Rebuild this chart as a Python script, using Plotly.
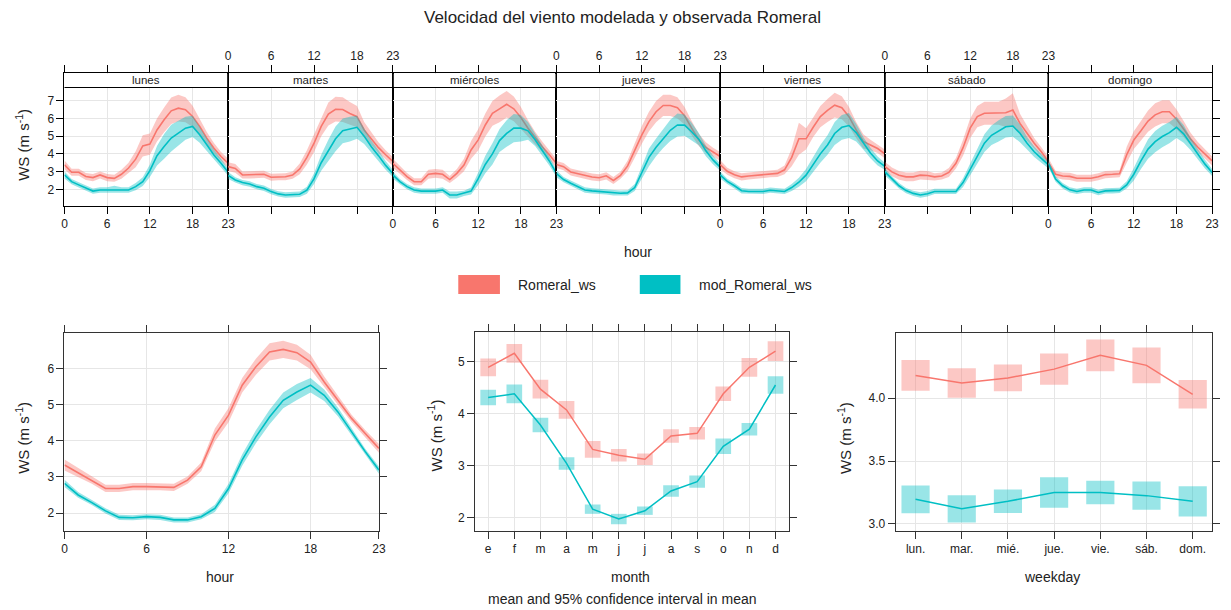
import plotly.graph_objects as go

# ---------------- data ----------------
hours = list(range(24))
days = ["lunes", "martes", "miércoles", "jueves", "viernes", "sábado", "domingo"]

obs_lunes = [3.38, 2.96, 2.96, 2.72, 2.66, 2.81, 2.66, 2.62, 2.85, 3.2, 3.7, 4.45, 4.55, 5.35, 5.92, 6.43, 6.58, 6.49, 6.11, 5.55, 4.89, 4.32, 3.85, 3.47]
mod_lunes = [2.81, 2.43, 2.25, 2.06, 1.9, 1.96, 1.96, 2.0, 1.96, 1.96, 2.15, 2.43, 3.05, 3.9, 4.42, 4.89, 5.17, 5.45, 5.55, 5.08, 4.51, 3.94, 3.47, 2.96]
obs_martes = [3.28, 3.18, 2.81, 2.81, 2.81, 2.85, 2.68, 2.71, 2.71, 2.8, 3.15, 3.8, 4.6, 5.55, 6.25, 6.52, 6.5, 6.28, 6.1, 5.35, 4.85, 4.35, 3.95, 3.58]
mod_martes = [2.78, 2.53, 2.38, 2.3, 2.15, 2.06, 1.87, 1.74, 1.68, 1.68, 1.72, 1.95, 2.6, 3.5, 4.2, 4.85, 5.3, 5.4, 5.5, 5.0, 4.4, 3.9, 3.35, 2.9]
obs_miercoles = [3.47, 3.09, 2.72, 2.43, 2.43, 2.85, 2.9, 2.85, 2.55, 2.9, 3.37, 4.22, 4.79, 5.63, 6.29, 6.54, 6.8, 6.54, 6.05, 5.45, 4.9, 4.4, 3.95, 3.45]
mod_miercoles = [2.81, 2.43, 2.15, 1.96, 1.9, 1.9, 1.9, 1.96, 1.68, 1.68, 1.77, 1.9, 2.6, 3.4, 4.0, 4.75, 5.15, 5.45, 5.45, 5.3, 4.8, 4.2, 3.6, 2.9]
obs_jueves = [3.4, 3.28, 2.98, 2.87, 2.79, 2.69, 2.65, 2.76, 2.5, 2.79, 3.32, 4.18, 5.07, 5.82, 6.38, 6.73, 6.73, 6.6, 6.15, 5.45, 4.79, 4.36, 4.1, 3.85]
mod_jueves = [2.88, 2.55, 2.34, 2.15, 1.96, 1.91, 1.87, 1.85, 1.8, 1.78, 1.8, 2.1, 2.95, 3.8, 4.37, 4.88, 5.33, 5.63, 5.62, 5.25, 4.83, 4.17, 3.66, 3.25]
obs_viernes = [3.4, 3.02, 2.82, 2.7, 2.75, 2.79, 2.82, 2.88, 2.9, 3.1, 3.8, 4.85, 4.85, 5.5, 6.1, 6.45, 6.75, 6.6, 6.1, 5.35, 4.7, 4.5, 4.3, 4.0]
mod_viernes = [2.81, 2.45, 2.2, 1.92, 1.88, 1.88, 1.88, 1.95, 1.92, 1.88, 2.1, 2.4, 2.8, 3.4, 4.0, 4.5, 5.15, 5.5, 5.6, 5.2, 4.6, 4.05, 3.6, 3.3]
obs_sabado = [3.3, 2.98, 2.79, 2.7, 2.7, 2.8, 2.78, 2.7, 2.75, 2.95, 3.47, 4.35, 5.45, 6.1, 6.29, 6.29, 6.29, 6.32, 6.47, 5.72, 5.16, 4.6, 4.12, 3.56]
mod_sabado = [3.0, 2.58, 2.2, 1.93, 1.77, 1.68, 1.75, 1.88, 1.88, 1.88, 1.88, 2.38, 3.1, 3.9, 4.6, 5.05, 5.3, 5.53, 5.57, 5.16, 4.6, 4.12, 3.75, 3.37]
obs_domingo = [3.5, 2.85, 2.75, 2.73, 2.62, 2.62, 2.62, 2.71, 2.83, 2.85, 2.88, 3.95, 4.78, 5.3, 5.85, 6.2, 6.38, 6.38, 5.95, 5.4, 4.83, 4.37, 3.98, 3.6]
mod_domingo = [3.45, 2.58, 2.2, 1.97, 1.88, 1.96, 1.96, 1.82, 1.91, 1.91, 1.94, 2.25, 2.85, 3.6, 4.27, 4.69, 4.98, 5.2, 5.5, 5.13, 4.55, 3.98, 3.42, 2.95]

# 95% CI half widths
obs_lunes_ci = [0.25, 0.2, 0.2, 0.2, 0.2, 0.2, 0.2, 0.2, 0.25, 0.3, 0.45, 0.6, 0.6, 0.65, 0.7, 0.75, 0.75, 0.7, 0.6, 0.45, 0.35, 0.3, 0.25, 0.25]
mod_lunes_ci = [0.2, 0.15, 0.15, 0.15, 0.15, 0.15, 0.15, 0.2, 0.15, 0.15, 0.2, 0.25, 0.35, 0.55, 0.7, 0.75, 0.7, 0.65, 0.6, 0.45, 0.35, 0.3, 0.25, 0.2]
obs_martes_ci = [0.25, 0.25, 0.2, 0.2, 0.2, 0.2, 0.2, 0.2, 0.2, 0.2, 0.3, 0.4, 0.5, 0.55, 0.65, 0.7, 0.7, 0.65, 0.6, 0.45, 0.35, 0.3, 0.25, 0.25]
mod_martes_ci = [0.2, 0.15, 0.15, 0.15, 0.15, 0.15, 0.15, 0.15, 0.15, 0.15, 0.15, 0.2, 0.3, 0.45, 0.6, 0.7, 0.7, 0.7, 0.65, 0.45, 0.35, 0.3, 0.25, 0.2]
obs_miercoles_ci = [0.25, 0.2, 0.2, 0.2, 0.2, 0.25, 0.25, 0.25, 0.2, 0.25, 0.35, 0.5, 0.6, 0.65, 0.7, 0.75, 0.75, 0.7, 0.6, 0.45, 0.35, 0.3, 0.25, 0.25]
mod_miercoles_ci = [0.2, 0.15, 0.15, 0.15, 0.15, 0.15, 0.15, 0.15, 0.2, 0.2, 0.15, 0.2, 0.35, 0.5, 0.6, 0.65, 0.75, 0.8, 0.75, 0.5, 0.35, 0.3, 0.25, 0.2]
obs_jueves_ci = [0.2, 0.2, 0.2, 0.2, 0.2, 0.2, 0.2, 0.2, 0.2, 0.2, 0.3, 0.4, 0.5, 0.55, 0.6, 0.6, 0.6, 0.6, 0.5, 0.4, 0.35, 0.3, 0.25, 0.25]
mod_jueves_ci = [0.2, 0.15, 0.15, 0.15, 0.15, 0.15, 0.15, 0.15, 0.15, 0.15, 0.15, 0.2, 0.35, 0.5, 0.5, 0.55, 0.6, 0.65, 0.6, 0.5, 0.35, 0.3, 0.25, 0.2]
obs_viernes_ci = [0.25, 0.2, 0.2, 0.2, 0.2, 0.2, 0.2, 0.2, 0.2, 0.25, 0.5, 0.9, 0.6, 0.55, 0.6, 0.65, 0.7, 0.65, 0.55, 0.45, 0.4, 0.3, 0.25, 0.25]
mod_viernes_ci = [0.2, 0.15, 0.15, 0.15, 0.15, 0.15, 0.15, 0.15, 0.15, 0.15, 0.2, 0.25, 0.35, 0.45, 0.5, 0.55, 0.65, 0.7, 0.7, 0.5, 0.35, 0.3, 0.25, 0.2]
obs_sabado_ci = [0.25, 0.25, 0.25, 0.25, 0.25, 0.25, 0.25, 0.2, 0.2, 0.25, 0.3, 0.45, 0.55, 0.6, 0.65, 0.65, 0.65, 0.8, 0.95, 0.55, 0.4, 0.3, 0.25, 0.25]
mod_sabado_ci = [0.2, 0.15, 0.15, 0.15, 0.15, 0.15, 0.15, 0.15, 0.15, 0.15, 0.15, 0.25, 0.35, 0.45, 0.5, 0.55, 0.6, 0.6, 0.6, 0.5, 0.35, 0.3, 0.25, 0.2]
obs_domingo_ci = [0.25, 0.2, 0.2, 0.2, 0.2, 0.2, 0.2, 0.2, 0.2, 0.2, 0.2, 0.45, 0.5, 0.55, 0.6, 0.65, 0.65, 0.65, 0.55, 0.45, 0.35, 0.3, 0.25, 0.25]
mod_domingo_ci = [0.2, 0.15, 0.15, 0.15, 0.15, 0.15, 0.15, 0.15, 0.15, 0.15, 0.15, 0.2, 0.35, 0.45, 0.55, 0.6, 0.6, 0.6, 0.6, 0.5, 0.35, 0.3, 0.25, 0.2]

obs_hour = [3.33, 3.12, 2.91, 2.68, 2.68, 2.73, 2.73, 2.73, 2.71, 2.91, 3.28, 4.16, 4.71, 5.54, 6.05, 6.46, 6.53, 6.44, 6.18, 5.63, 5.12, 4.62, 4.2, 3.79]
mod_hour = [2.82, 2.5, 2.29, 2.06, 1.88, 1.87, 1.9, 1.88, 1.81, 1.81, 1.9, 2.13, 2.68, 3.47, 4.11, 4.66, 5.12, 5.35, 5.54, 5.26, 4.8, 4.25, 3.7, 3.19]
obs_hour_ci = [0.15, 0.12, 0.1, 0.1, 0.1, 0.1, 0.1, 0.1, 0.1, 0.1, 0.12, 0.18, 0.2, 0.2, 0.22, 0.24, 0.24, 0.22, 0.2, 0.15, 0.12, 0.1, 0.1, 0.12]
mod_hour_ci = [0.1, 0.08, 0.07, 0.07, 0.07, 0.07, 0.07, 0.07, 0.07, 0.07, 0.07, 0.1, 0.13, 0.16, 0.18, 0.2, 0.22, 0.22, 0.2, 0.16, 0.12, 0.1, 0.08, 0.1]

months = ["e", "f", "m", "a", "m", "j", "j", "a", "s", "o", "n", "d"]
obs_month = [4.89, 5.16, 4.47, 4.07, 3.31, 3.2, 3.12, 3.57, 3.62, 4.38, 4.89, 5.2]
obs_month_ci = [0.17, 0.18, 0.18, 0.17, 0.16, 0.12, 0.11, 0.13, 0.12, 0.14, 0.18, 0.19]
mod_month = [4.31, 4.38, 3.78, 3.04, 2.16, 1.97, 2.13, 2.51, 2.69, 3.37, 3.7, 4.55]
mod_month_ci = [0.15, 0.18, 0.14, 0.12, 0.09, 0.1, 0.08, 0.11, 0.12, 0.15, 0.12, 0.17]

weekdays = ["lun.", "mar.", "mié.", "jue.", "vie.", "sáb.", "dom."]
obs_wday = [4.18, 4.12, 4.16, 4.23, 4.34, 4.26, 4.03]
obs_wday_ci = [0.122, 0.117, 0.106, 0.125, 0.126, 0.142, 0.113]
mod_wday = [3.196, 3.12, 3.18, 3.25, 3.25, 3.225, 3.18]
mod_wday_ci = [0.11, 0.109, 0.093, 0.122, 0.093, 0.113, 0.12]

obs_week = [obs_lunes, obs_martes, obs_miercoles, obs_jueves, obs_viernes, obs_sabado, obs_domingo]
mod_week = [mod_lunes, mod_martes, mod_miercoles, mod_jueves, mod_viernes, mod_sabado, mod_domingo]
obs_week_ci = [obs_lunes_ci, obs_martes_ci, obs_miercoles_ci, obs_jueves_ci, obs_viernes_ci, obs_sabado_ci, obs_domingo_ci]
mod_week_ci = [mod_lunes_ci, mod_martes_ci, mod_miercoles_ci, mod_jueves_ci, mod_viernes_ci, mod_sabado_ci, mod_domingo_ci]

# ---------------- style ----------------
W, H = 1231, 610
RED = "#F8766D"
TEAL = "#00BFC4"
RED_F = "rgba(248,118,109,0.4)"
TEAL_F = "rgba(0,191,196,0.4)"
FONT = "Liberation Sans, Arial, sans-serif"
TXT = "#222222"
GRID = "#e6e6e6"


def fx(p):
    return p / W


def fy(p):
    return 1 - p / H


fig = go.Figure()
layout = dict(
    width=W, height=H, margin=dict(l=0, r=0, t=0, b=0),
    paper_bgcolor="white", plot_bgcolor="white", showlegend=False,
    barmode="overlay", font=dict(family=FONT, size=12, color=TXT),
)


def ribbon(x, m, ci, fill, xa, ya):
    up = [a + b for a, b in zip(m, ci)]
    lo = [a - b for a, b in zip(m, ci)]
    return go.Scatter(x=list(x) + list(x)[::-1], y=up + lo[::-1], fill="toself",
                      fillcolor=fill, line=dict(width=0), mode="lines",
                      hoverinfo="skip", xaxis=xa, yaxis=ya)


def line(x, m, col, xa, ya, w=1.6):
    return go.Scatter(x=x, y=m, mode="lines", line=dict(color=col, width=w),
                      xaxis=xa, yaxis=ya)


# ---------- top: hour by weekday ----------
bounds = [62, 227, 393, 558, 723, 889, 1054, 1219]
top_y0, top_y1 = 206.0, 73.0
strip_bot = 87.0
ymin_t, ymax_t = 1.058, 8.563
shapes = []
annotations = []
for i in range(7):
    n = "" if i == 0 else str(i + 1)
    xa, ya = "x" + n, "y" + n
    x0p, x1p = bounds[i], bounds[i + 1]
    fig.add_trace(ribbon(hours, obs_week[i], obs_week_ci[i], RED_F, xa, ya))
    fig.add_trace(line(hours, obs_week[i], RED, xa, ya))
    fig.add_trace(ribbon(hours, mod_week[i], mod_week_ci[i], TEAL_F, xa, ya))
    fig.add_trace(line(hours, mod_week[i], TEAL, xa, ya))
    layout["xaxis" + n] = dict(
        domain=[fx(x0p), fx(x1p)], range=[0, 23], anchor=ya,
        tickvals=[0, 6, 12, 18, 23], ticks="outside", ticklen=7, tickcolor="black",
        showline=True, linecolor="black", linewidth=1, mirror="ticks",
        side="top" if i % 2 == 1 else "bottom", showgrid=True, gridcolor=GRID,
        zeroline=False, tickfont=dict(size=12, color=TXT), fixedrange=True)
    yd = dict(
        domain=[fy(top_y0), fy(top_y1)], range=[ymin_t, ymax_t], anchor=xa,
        tickvals=[2, 3, 4, 5, 6, 7], showgrid=True, gridcolor=GRID, zeroline=False,
        showline=True, linecolor="black", linewidth=1, mirror=True,
        tickfont=dict(size=12, color=TXT))
    if i == 0:
        yd.update(ticks="outside", ticklen=7, tickcolor="black", showticklabels=True, side="left")
    elif i == 6:
        yd.update(ticks="outside", ticklen=7, tickcolor="black", showticklabels=False, side="right")
    else:
        yd.update(ticks="", showticklabels=False)
    layout["yaxis" + n] = yd
    # white strip background (inset so the panel borders stay visible)
    shapes.append(dict(type="rect", xref="paper", yref="paper",
                       x0=fx(x0p + 1), x1=fx(x1p - 1), y0=fy(strip_bot), y1=fy(top_y1 + 1),
                       fillcolor="white", line=dict(width=0), layer="above"))
    annotations.append(dict(text=days[i], x=fx((x0p + x1p) / 2), y=fy(80), xref="paper", yref="paper",
                            showarrow=False, font=dict(size=11.5, color=TXT),
                            xanchor="center", yanchor="middle"))

# strip lower border
shapes.append(dict(type="line", xref="paper", yref="paper", x0=fx(bounds[0]), x1=fx(bounds[-1]),
                   y0=fy(strip_bot + 0.5), y1=fy(strip_bot + 0.5),
                   line=dict(color="black", width=1), layer="above"))

# ---------- bottom left: hour ----------
fig.add_trace(ribbon(hours, obs_hour, obs_hour_ci, RED_F, "x8", "y8"))
fig.add_trace(line(hours, obs_hour, RED, "x8", "y8"))
fig.add_trace(ribbon(hours, mod_hour, mod_hour_ci, TEAL_F, "x8", "y8"))
fig.add_trace(line(hours, mod_hour, TEAL, "x8", "y8"))

common_x = dict(ticks="outside", ticklen=7, tickcolor="#333", showline=True, linecolor="#333",
                linewidth=1, mirror="ticks", showgrid=True, gridcolor=GRID, zeroline=False,
                tickfont=dict(size=12, color=TXT), fixedrange=True)
common_y = dict(ticks="outside", ticklen=7, tickcolor="#333", showline=True, linecolor="#333",
                linewidth=1, mirror="ticks", showgrid=True, gridcolor=GRID, zeroline=False,
                tickfont=dict(size=12, color=TXT), fixedrange=True)

layout["xaxis8"] = dict(common_x, domain=[fx(62), fx(379)], range=[0, 23], anchor="y8",
                        tickvals=[0, 6, 12, 18, 23])
layout["yaxis8"] = dict(common_y, domain=[fy(531), fy(333)], range=[1.503, 6.984], anchor="x8",
                        tickvals=[2, 3, 4, 5, 6])

# ---------- bottom middle: month ----------
mx = list(range(1, 13))
fig.add_trace(go.Bar(x=mx, y=[2 * c for c in obs_month_ci], base=[m - c for m, c in zip(obs_month, obs_month_ci)],
                     width=0.6, marker=dict(color=RED_F, line=dict(width=0)), xaxis="x9", yaxis="y9", hoverinfo="skip"))
fig.add_trace(line(mx, obs_month, RED, "x9", "y9", 1.5))
fig.add_trace(go.Bar(x=mx, y=[2 * c for c in mod_month_ci], base=[m - c for m, c in zip(mod_month, mod_month_ci)],
                     width=0.6, marker=dict(color=TEAL_F, line=dict(width=0)), xaxis="x9", yaxis="y9", hoverinfo="skip"))
fig.add_trace(line(mx, mod_month, TEAL, "x9", "y9", 1.5))
layout["xaxis9"] = dict(common_x, domain=[fx(476), fx(792)], range=[0.5, 12.5], anchor="y9",
                        tickvals=mx, ticktext=months)
layout["yaxis9"] = dict(common_y, domain=[fy(531), fy(332)], range=[1.74, 5.57], anchor="x9",
                        tickvals=[2, 3, 4, 5])

# ---------- bottom right: weekday ----------
wx = list(range(1, 8))
fig.add_trace(go.Bar(x=wx, y=[2 * c for c in obs_wday_ci], base=[m - c for m, c in zip(obs_wday, obs_wday_ci)],
                     width=0.61, marker=dict(color=RED_F, line=dict(width=0)), xaxis="x10", yaxis="y10", hoverinfo="skip"))
fig.add_trace(line(wx, obs_wday, RED, "x10", "y10", 1.5))
fig.add_trace(go.Bar(x=wx, y=[2 * c for c in mod_wday_ci], base=[m - c for m, c in zip(mod_wday, mod_wday_ci)],
                     width=0.61, marker=dict(color=TEAL_F, line=dict(width=0)), xaxis="x10", yaxis="y10", hoverinfo="skip"))
fig.add_trace(line(wx, mod_wday, TEAL, "x10", "y10", 1.5))
layout["xaxis10"] = dict(common_x, domain=[fx(900), fx(1219)], range=[0.57, 7.42], anchor="y10",
                         tickvals=wx, ticktext=weekdays)
layout["yaxis10"] = dict(common_y, domain=[fy(531), fy(333)], range=[2.944, 4.517], anchor="x10",
                         tickvals=[3.0, 3.5, 4.0], ticktext=["3.0", "3.5", "4.0"])

# ---------- texts ----------
def ann(text, xp, yp, size, angle=0, xanchor="center"):
    annotations.append(dict(text=text, x=fx(xp), y=fy(yp), xref="paper", yref="paper",
                            showarrow=False, textangle=angle, xanchor=xanchor, yanchor="middle",
                            font=dict(size=size, color=TXT)))

ws = "WS (m s<sup>-1</sup>)"
ann("Velocidad del viento modelada y observada Romeral", 625, 18, 17)
ann("hour", 640, 252, 14)
ann(ws, 20, 145, 15, -90)
ann("hour", 219, 577, 14)
ann("month", 633, 577, 14)
ann("weekday", 1058, 577, 14)
ann("mean and 95% confidence interval in mean", 625, 599, 14)
ann(ws, 19, 438, 15, -90)
ann(ws, 435, 435, 15, -90)
ann(ws, 848, 438, 15, -90)

# legend
shapes.append(dict(type="rect", xref="paper", yref="paper", x0=fx(459), x1=fx(501),
                   y0=fy(294), y1=fy(275), fillcolor=RED, line=dict(width=0)))
shapes.append(dict(type="rect", xref="paper", yref="paper", x0=fx(642), x1=fx(683),
                   y0=fy(294), y1=fy(275), fillcolor=TEAL, line=dict(width=0)))
ann("Romeral_ws", 516.7, 284.5, 14, xanchor="left")
ann("mod_Romeral_ws", 700, 284.5, 14, xanchor="left")

layout["shapes"] = shapes
layout["annotations"] = annotations
fig.update_layout(**layout)
fig.write_html("out.html")
